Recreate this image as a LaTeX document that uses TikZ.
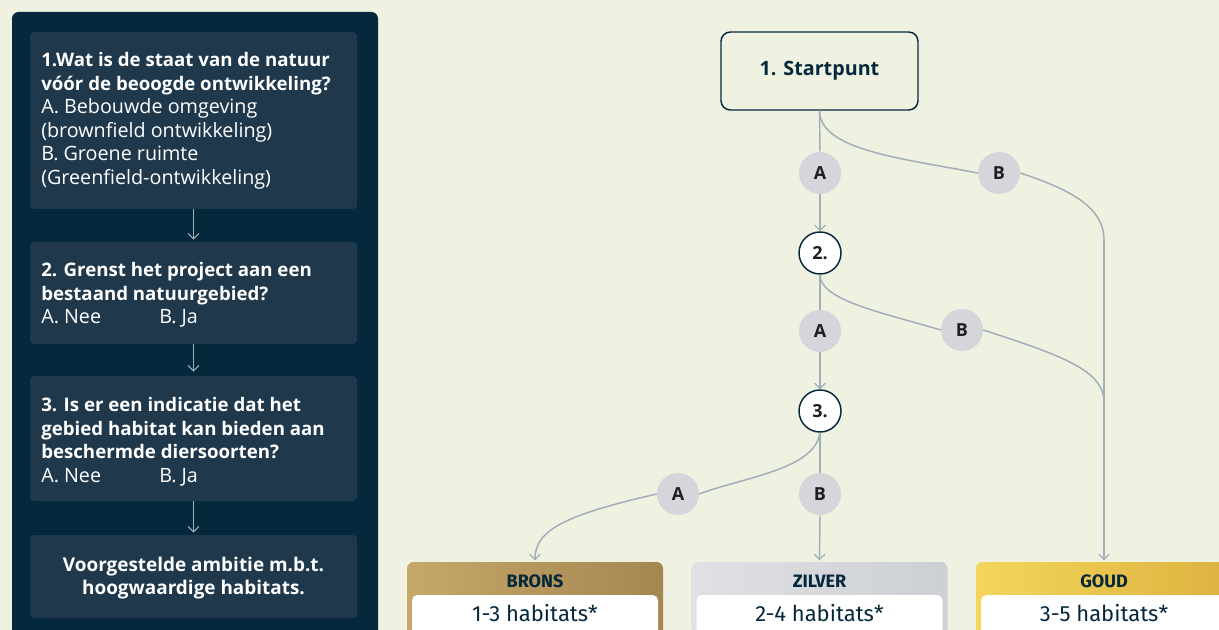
\documentclass[tikz,border=0pt]{standalone}
\usepackage{fontspec}
\setmainfont{Fira Sans}
\newfontfamily\panelfont{Open Sans}
\usetikzlibrary{arrows.meta}
\definecolor{bg}{RGB}{239,241,225}
\definecolor{navy}{RGB}{5,40,61}
\definecolor{panelbox}{RGB}{32,56,75}
\definecolor{link}{RGB}{160,174,184}
\definecolor{chipfill}{RGB}{213,214,219}
\definecolor{ink}{RGB}{30,30,36}
\definecolor{bronsA}{RGB}{198,168,106}
\definecolor{bronsB}{RGB}{164,134,80}
\definecolor{zilverA}{RGB}{224,225,228}
\definecolor{zilverB}{RGB}{204,207,212}
\definecolor{goudA}{RGB}{244,214,92}
\definecolor{goudB}{RGB}{220,178,62}
\tikzset{
  qbox/.style={fill=panelbox, rounded corners=3pt, minimum width=245.25pt, inner sep=0pt},
  qtext/.style={text=white, anchor=north west, inner sep=0pt, align=left,
                font=\panelfont\fontsize{14.8}{17.7}\selectfont},
  flow/.style={draw=link, line width=1.1pt},
  flowarrow/.style={flow, -{Straight Barb[length=4pt,width=8pt,line width=0.9pt]}},
  chip/.style={circle, fill=chipfill, minimum size=31.5pt, inner sep=0pt, text=ink,
               font=\panelfont\bfseries\fontsize{13.5}{15}\selectfont},
  qnum/.style={circle, fill=white, draw=navy, line width=1.1pt, minimum size=31.5pt,
               inner sep=0pt, text=ink, font=\panelfont\bfseries\fontsize{13.5}{15}\selectfont},
  card/.style={rounded corners=5pt, minimum width=192pt, minimum height=66pt, inner sep=0pt},
  cardtitle/.style={text=navy, font=\bfseries\fontsize{13.5}{15}\selectfont},
  cardvalue/.style={fill=white, rounded corners=4pt, minimum width=184.5pt, minimum height=33pt,
                    inner sep=0pt},
  cardnum/.style={text=navy, font=\fontsize{16.5}{18}\selectfont},
}
\newcommand{\hd}[1]{{\bfseries\fontsize{14}{17.7}\selectfont #1}}
\newcommand{\answers}[2]{\makebox[88.5pt][l]{#1}#2}
\begin{document}
\begin{tikzpicture}[x=0.75pt,y=-0.75pt]
\useasboundingbox (0,0) rectangle (1219,630);
\clip (0,0) rectangle (1219,630);
\fill[bg] (0,0) rectangle (1219,630);

% left panel with the question boxes
\fill[navy, rounded corners=5pt] (12,12) rectangle (378,680);
\node[qbox, minimum height=132.75pt] (q1) at (193.5,120.5) {};
\node[qbox, minimum height=76.5pt]   (q2) at (193.5,293) {};
\node[qbox, minimum height=93.75pt]  (q3) at (193.5,438.5) {};
\node[qbox, minimum height=62.25pt]  (q4) at (193.5,576.5) {};

\node[qtext] (t1) at (41,52) {\hd{1.Wat is de staat van de natuur}\\
  \hd{vóór de beoogde ontwikkeling?}\\
  A. Bebouwde omgeving\\(brownfield ontwikkeling)\\
  B. Groene ruimte\\(Greenfield-ontwikkeling)};
\node[qtext] (t2) at (41,262) {\hd{2. Grenst het project aan een}\\
  \hd{bestaand natuurgebied?}\\ \answers{A. Nee}{B. Ja}};
\node[qtext] (t3) at (41,397) {\hd{3. Is er een indicatie dat het}\\
  \hd{gebied habitat kan bieden aan}\\
  \hd{beschermde diersoorten?}\\ \answers{A. Nee}{B. Ja}};
\node[text=white, align=center, inner sep=0pt, font=\panelfont\bfseries\fontsize{14.2}{17.6}\selectfont]
  (t4) at (193.5,578) {Voorgestelde ambitie m.b.t.\\hoogwaardige habitats.};

\draw[flowarrow, line width=0.9pt] (q1.south) -- ([yshift=1.5pt]q2.north);
\draw[flowarrow, line width=0.9pt] (q2.south) -- ([yshift=3pt]q3.north);
\draw[flowarrow, line width=0.9pt] (q3.south) -- ([yshift=1.5pt]q4.north);

% decision tree
\node[draw=navy, line width=1.1pt, fill=bg, rounded corners=7pt, minimum width=147.75pt,
      minimum height=58.5pt, text=navy, font=\panelfont\bfseries\fontsize{14.8}{16}\selectfont]
  (start) at (819.5,71) {1. Startpunt};
\node[chip] (a1) at (820,173) {A};
\node[chip] (b1) at (999,173) {B};
\node[qnum] (n2) at (820,253) {2.};
\node[chip] (a2) at (820,331) {A};
\node[chip] (b2) at (962,330) {B};
\node[qnum] (n3) at (820,411) {3.};
\node[chip] (a3) at (678,494) {A};
\node[chip] (b3) at (820,494) {B};

% result cards
\node[card, left color=bronsA, right color=bronsB] (brons) at (535,606) {};
\node[card, left color=zilverA, right color=zilverB] (zilver) at (819.5,606) {};
\node[card, left color=goudA, right color=goudB] (goud) at (1104,606) {};
\node[cardtitle] (brons-t) at (535,581) {BRONS};
\node[cardtitle] (zilver-t) at (819.5,581) {ZILVER};
\node[cardtitle] (goud-t) at (1104,581) {GOUD};
\node[cardvalue] (brons-v) at (535,617) {};
\node[cardvalue] (zilver-v) at (819.5,617) {};
\node[cardvalue] (goud-v) at (1104,617) {};
\node[cardnum] (brons-n) at (535,613) {1-3 habitats*};
\node[cardnum] (zilver-n) at (819.5,613) {2-4 habitats*};
\node[cardnum] (goud-n) at (1104,613) {3-5 habitats*};

\coordinate (goudline) at (1104,240);
\coordinate (merge) at (1104,402);

% question 1
\draw[flow] (start.south) -- (a1.north);
\draw[flowarrow] (a1.south) -- (n2.north);
\draw[flow] (start.south) .. controls (820,150) and (900,158) .. (b1.west);
\draw[flow] (b1.east) .. controls (1065,188) and (1104,205) .. (goudline);
\draw[flowarrow] (goudline) -- ([yshift=1pt]goud.north);

% question 2
\draw[flow] (n2.south) -- (a2.north);
\draw[flowarrow] (a2.south) -- (n3.north);
\draw[flow] (n2.south) .. controls (820,300) and (880,312) .. (b2.west);
\draw[flow] (b2.east) .. controls (1060,355) and (1104,370) .. (merge);

% question 3
\draw[flow] (n3.south) .. controls (815,470) and (740,478) .. (a3.east);
\draw[flowarrow] (a3.west) .. controls (565,515) and (535,530) .. ([yshift=1pt]brons.north);
\draw[flow] (n3.south) -- (b3.north);
\draw[flowarrow] (b3.south) -- ([yshift=1pt]zilver.north);
\end{tikzpicture}
\end{document}
